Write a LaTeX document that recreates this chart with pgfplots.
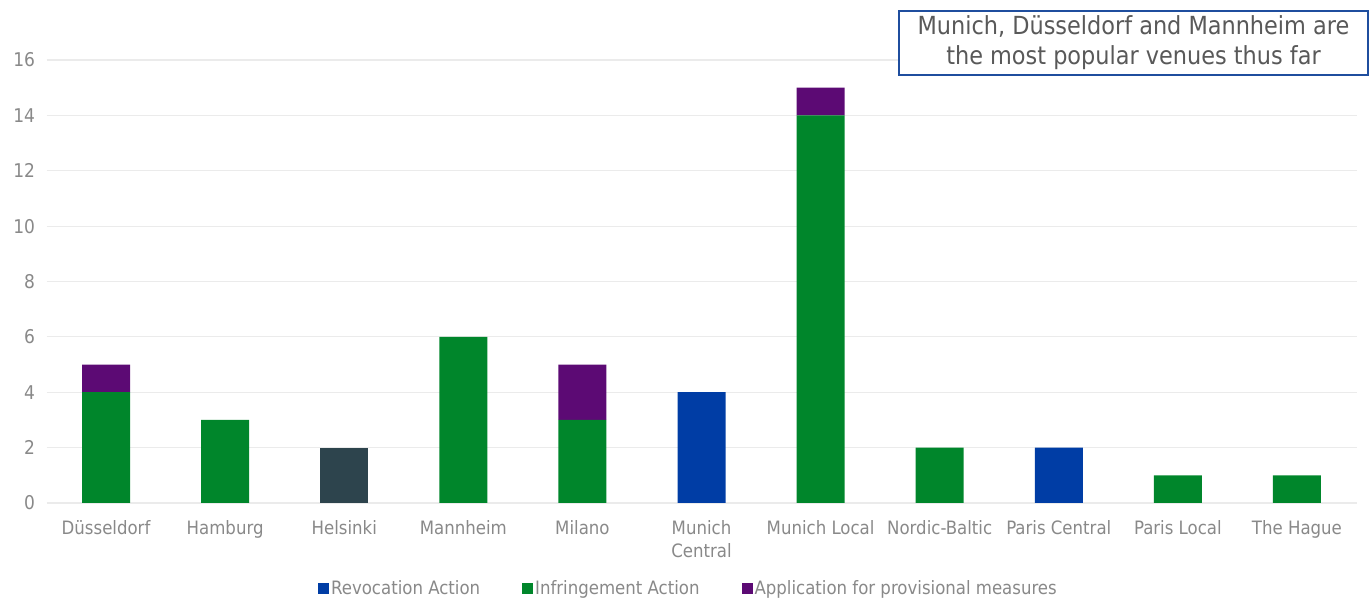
\documentclass[border=0pt]{standalone}
\usepackage{pgfplots}
\pgfplotsset{compat=1.18}
\usepackage{fontspec}
\setmainfont{DejaVu Sans Condensed}
\definecolor{revblue}{RGB}{0,61,165}
\definecolor{infgreen}{RGB}{0,134,43}
\definecolor{apppurple}{RGB}{92,10,116}
\definecolor{slate}{RGB}{45,68,77}
\definecolor{gridgray}{RGB}{235,235,235}
\definecolor{txtgray}{RGB}{137,137,137}
\definecolor{boxblue}{RGB}{31,78,158}
\definecolor{boxtxt}{RGB}{89,89,89}
\begin{document}
\begin{tikzpicture}
\path[use as bounding box] (0,0) rectangle (1372bp,601bp);
\begin{axis}[
  at={(46.5bp,98bp)}, anchor=south west,
  scale only axis, width=1310bp, height=443bp,
  ybar stacked, bar width=48bp,
  xmin=-0.5, xmax=10.5, ymin=0, ymax=16,
  ytick={0,2,...,16},
  xtick={0,...,10},
  xticklabels={D\"usseldorf,Hamburg,Helsinki,Mannheim,Milano,{Munich\\Central},Munich Local,Nordic-Baltic,Paris Central,Paris Local,The Hague},
  xticklabel style={align=center, font=\fontsize{18.5}{23}\selectfont, text=txtgray, anchor=north, yshift=-14bp},
  yticklabel style={font=\fontsize{19}{22}\selectfont, text=txtgray, xshift=-8bp},
  /pgf/number format/assume math mode=true,
  axis line style={draw=none},
  major tick length=0,
  ymajorgrids, grid style={gridgray, line width=1.2bp},
  legend style={at={(0.5,-0.165)}, anchor=north, xshift=-13bp, draw=none, fill=none,
    legend columns=-1, font=\fontsize{18.5}{22}\selectfont, text=txtgray,
    /tikz/every even column/.append style={column sep=40bp},
    /tikz/every odd column/.append style={column sep=0bp}},
  legend image code/.code={\fill[#1] (0bp,-5.5bp) rectangle (11bp,5.5bp);},
]
\addplot[fill=revblue, draw=none] coordinates {(0,0) (1,0) (2,0) (3,0) (4,0) (5,4) (6,0) (7,0) (8,2) (9,0) (10,0)};
\addplot[fill=infgreen, draw=none] coordinates {(0,4) (1,3) (2,0) (3,6) (4,3) (5,0) (6,14) (7,2) (8,0) (9,1) (10,1)};
\addplot[fill=apppurple, draw=none] coordinates {(0,1) (1,0) (2,0) (3,0) (4,2) (5,0) (6,1) (7,0) (8,0) (9,0) (10,0)};
\addplot[fill=slate, draw=none, forget plot] coordinates {(0,0) (1,0) (2,2) (3,0) (4,0) (5,0) (6,0) (7,0) (8,0) (9,0) (10,0)};
\legend{Revocation Action, Infringement Action, Application for provisional measures}
\end{axis}
\node[draw=boxblue, line width=2.5bp, fill=white, minimum width=469bp, minimum height=64bp, inner sep=0pt, align=center, text=boxtxt, font=\fontsize{25}{30}\selectfont] at (1133.5bp,558bp) {Munich, D\"usseldorf and Mannheim are\\the most popular venues thus far};
\end{tikzpicture}
\end{document}
